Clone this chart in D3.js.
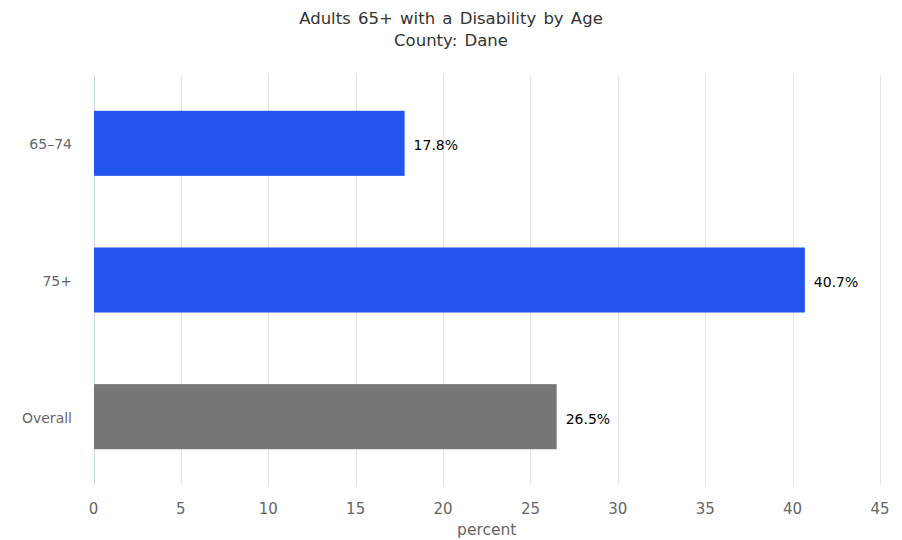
<!DOCTYPE html>
<html><head><meta charset="utf-8">
<script src="https://cdn.jsdelivr.net/npm/d3@7"></script>
<style>body{margin:0;background:#fff}svg{display:block}text{font-family:"DejaVu Sans",Verdana,sans-serif}</style>
</head><body>
<svg id="c" width="902" height="540"></svg>
<script>
const categories = ["65-74", "75+", "Overall"];
const values = [17.8, 40.7, 26.5];
const barColors = ["#2254ef", "#2254ef", "#777777"];
const xTicks = [0, 5, 10, 15, 20, 25, 30, 35, 40, 45];
const titleLines = ["Adults 65+ with a Disability by Age", "County: Dane"];
const xTitle = "percent";

const svg = d3.select("#c");
const m = {left: 93.5, right: 880, top: 75, bottom: 485};
const x = d3.scaleLinear().domain([0, 45]).range([m.left, m.right]);
const y = d3.scaleBand().domain(categories).range([m.top, m.bottom]).paddingInner(0.524).paddingOuter(0.262);

// grid
svg.append("g").selectAll("line").data(xTicks.filter(d => d > 0)).join("line")
  .attr("x1", d => Math.round(x(d)) + 0.5).attr("x2", d => Math.round(x(d)) + 0.5)
  .attr("y1", m.top).attr("y2", m.bottom).attr("stroke", "#e6e6e6");
// axis line
svg.append("line").attr("x1", Math.round(x(0)) + 0.5).attr("x2", Math.round(x(0)) + 0.5)
  .attr("y1", m.top).attr("y2", m.bottom).attr("stroke", "#ccd6eb");

// bars
svg.append("g").selectAll("rect").data(values).join("rect")
  .attr("x", x(0) + 0.5).attr("y", (d, i) => y(categories[i]))
  .attr("width", d => x(d) - x(0) - 0.5).attr("height", y.bandwidth())
  .attr("fill", (d, i) => barColors[i]);

// data labels
svg.append("g").selectAll("text").data(values).join("text")
  .attr("x", d => x(d) + 9).attr("y", (d, i) => y(categories[i]) + y.bandwidth() / 2 + 2)
  .attr("dy", "0.35em").attr("font-size", 14).attr("fill", "#000")
  .text(d => d.toFixed(1) + "%");

// category labels
svg.append("g").selectAll("text").data(categories).join("text")
  .attr("x", 72).attr("y", d => y(d) + y.bandwidth() / 2 + 1).attr("dy", "0.35em")
  .attr("text-anchor", "end").attr("font-size", 14).attr("fill", "#666")
  .text(d => d.replace("-", "–"));

// x tick labels
svg.append("g").selectAll("text").data(xTicks).join("text")
  .attr("x", d => x(d)).attr("y", 514).attr("text-anchor", "middle")
  .attr("font-size", 15).attr("fill", "#666").text(d => d);

svg.append("text").attr("x", (m.left + m.right) / 2).attr("y", 535).attr("text-anchor", "middle")
  .attr("font-size", 15.5).attr("fill", "#666").text(xTitle);

// title
svg.append("g").selectAll("text").data(titleLines).join("text")
  .attr("x", 451).attr("y", (d, i) => 24 + i * 22).attr("text-anchor", "middle")
  .attr("font-size", 16.5).attr("word-spacing", 2).attr("fill", "#333").text(d => d);
</script>
</body></html>
